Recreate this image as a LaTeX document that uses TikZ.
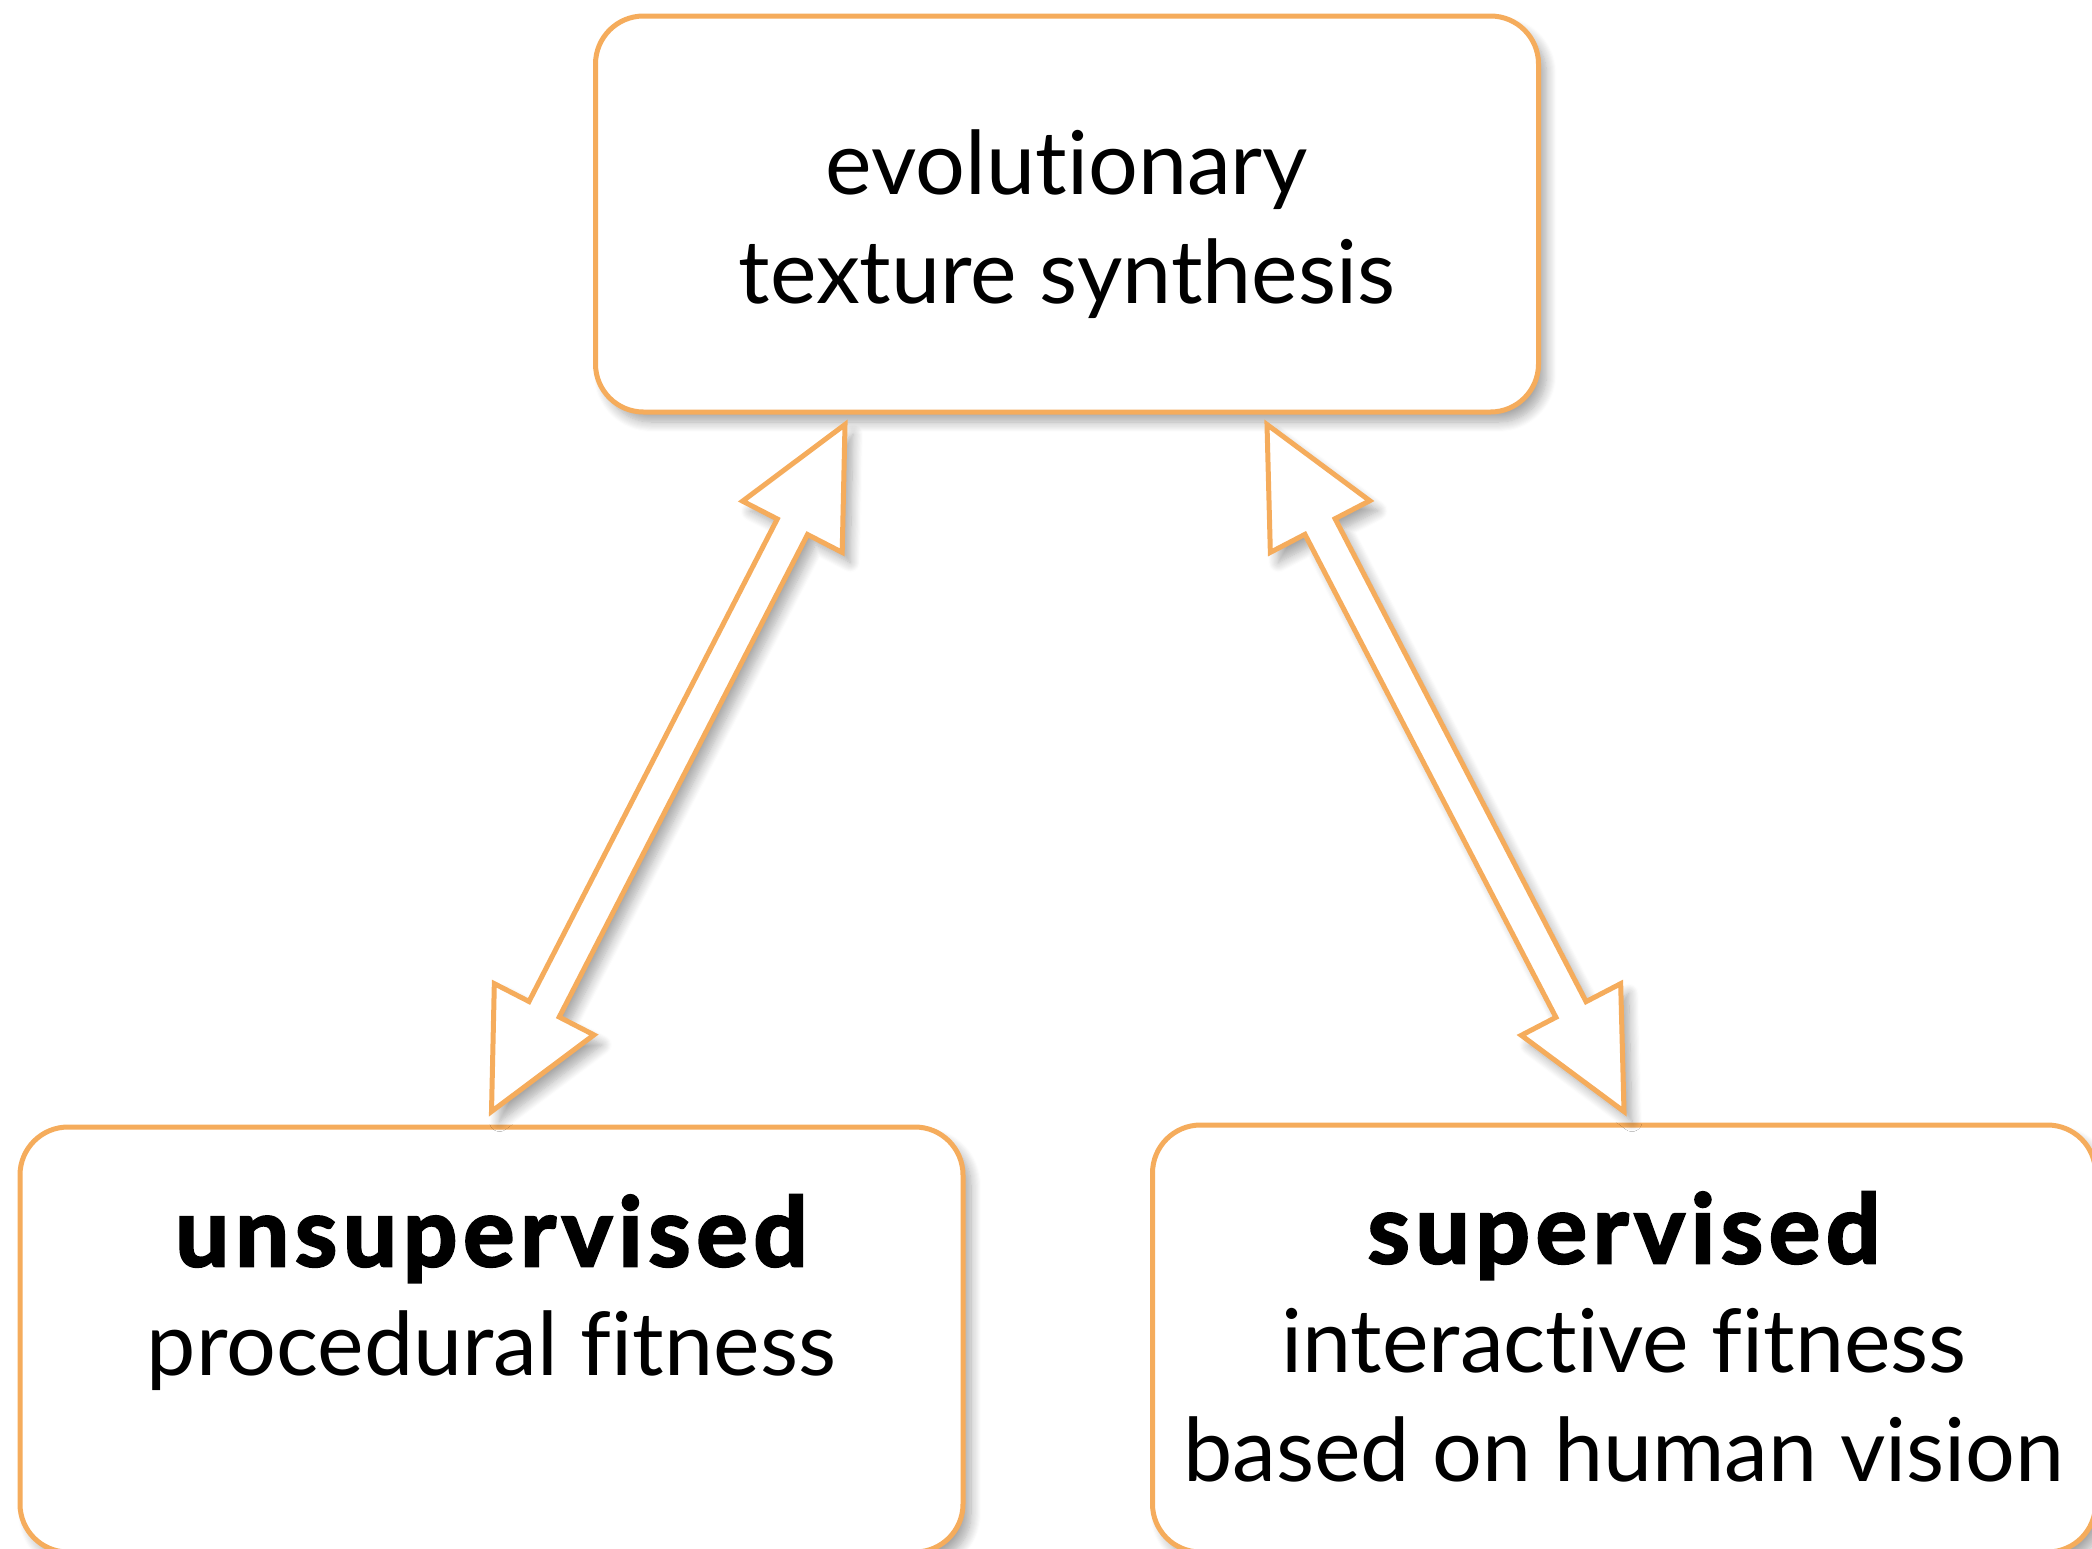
\documentclass[tikz,border=0pt]{standalone}
\usepackage{fontspec}
\setmainfont{Lato}[Ligatures=NoCommon]
\newfontface\heavyfont{Lato Bold}[FakeBold=2.5,LetterSpace=6,Ligatures=NoCommon]
\usetikzlibrary{calc,positioning,shadows.blur}
\definecolor{boxorange}{RGB}{245,172,92}

\newcommand\headlen{57.5pt}
\newcommand\headwd{28pt}
\newcommand\shaftwd{8.5pt}
\newcommand\heavy[1]{{\fontsize{48pt}{54.5pt}\heavyfont #1}}
% hollow block arrow with a head at both ends
\newcommand\blockarrow[2]{%
  \draw[blockline] (#1)
    -- ($(#1)!\headlen!(#2)!\headwd!90:(#2)$)
    -- ($(#1)!\headlen!(#2)!\shaftwd!90:(#2)$)
    -- ($(#2)!\headlen!(#1)!\shaftwd!-90:(#1)$)
    -- ($(#2)!\headlen!(#1)!\headwd!-90:(#1)$)
    -- (#2)
    -- ($(#2)!\headlen!(#1)!\headwd!90:(#1)$)
    -- ($(#2)!\headlen!(#1)!\shaftwd!90:(#1)$)
    -- ($(#1)!\headlen!(#2)!\shaftwd!-90:(#2)$)
    -- ($(#1)!\headlen!(#2)!\headwd!-90:(#2)$)
    -- cycle;}

\tikzset{
  softshadow/.style={blur shadow={shadow xshift=4pt, shadow yshift=-5pt,
      shadow blur radius=5pt, shadow blur steps=10, shadow opacity=35}},
  roundbox/.style={draw=boxorange, line width=2.5pt, fill=white,
      rounded corners=24pt, minimum width=471.5pt, softshadow},
  boxtext/.style={align=center, inner sep=0pt,
      font=\fontsize{44pt}{54.5pt}\selectfont},
  blockline/.style={draw=boxorange, line width=2.5pt, fill=white,
      line join=miter, softshadow},
}

\begin{document}
\begin{tikzpicture}[x=0.5pt, y=-0.5pt]
  \useasboundingbox (0,0) rectangle (2092,1548);

  \node[roundbox, minimum height=198pt] (box_top) at (1067,214) {};
  \node[roundbox, minimum height=212.5pt] (box_l) at (491.5,1339.5) {};
  \node[roundbox, minimum height=213.5pt] (box_r) at (1624,1338.5) {};

  \node[boxtext, below=57.8pt of box_top.north] (txt_top)
    {evolutionary\\texture synthesis};
  \node[boxtext, below=35pt of box_l.north] (txt_l)
    {\heavy{unsupervised}\\procedural fitness};
  \node[boxtext, below=34.5pt of box_r.north] (txt_r)
    {\heavy{supervised}\\interactive fitness\\based on human vision};

  \coordinate (tip_tl) at ($(box_top.south)+(-222,10)$);
  \coordinate (tip_tr) at ($(box_top.south)+(200,10)$);
  \coordinate (tip_bl) at ($(box_l.north)+(0,-13)$);
  \coordinate (tip_br) at ($(box_r.north)+(0,-11)$);

  \blockarrow{tip_tl}{tip_bl}
  \blockarrow{tip_tr}{tip_br}
\end{tikzpicture}
\end{document}
